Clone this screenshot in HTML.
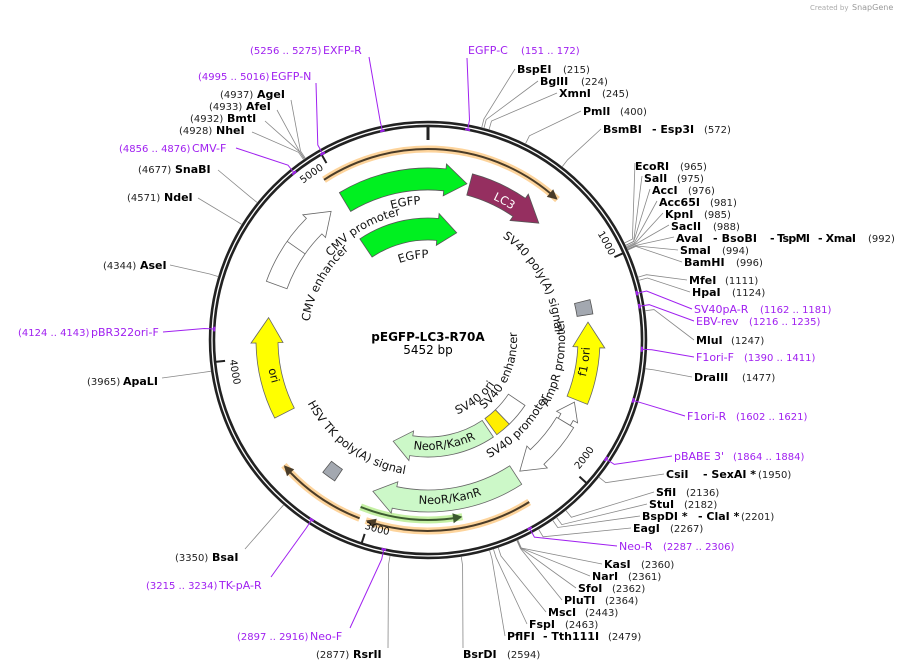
<!DOCTYPE html>
<html><head><meta charset="utf-8"><style>
html,body{margin:0;padding:0;background:#fff;}
svg{display:block;font-family:"DejaVu Sans","Liberation Sans",sans-serif;}
.n{font-weight:bold;font-size:11px;fill:#000}
.p{font-size:10px;fill:#222}
.m{font-size:11px;fill:#a020f0}
.mp{font-size:10px;fill:#a020f0}
.f{font-size:11.5px;fill:#111}
.t{font-size:10px;fill:#111}
</style></head><body>
<svg id="s" width="908" height="671" viewBox="0 0 908 671" xmlns="http://www.w3.org/2000/svg">
<defs>
<path id="cw82" d="M428,422 A82,82 0 1 1 428,258 A82,82 0 1 1 428,422"/>
<path id="cw120" d="M428,460 A120,120 0 1 1 428,220 A120,120 0 1 1 428,460"/>
<path id="cw127" d="M428,467 A127,127 0 1 1 428,213 A127,127 0 1 1 428,467"/>
<path id="cw128" d="M428,468 A128,128 0 1 1 428,212 A128,128 0 1 1 428,468"/>
<path id="cw136" d="M428,476 A136,136 0 1 1 428,204 A136,136 0 1 1 428,476"/>
<path id="cw155" d="M428,495 A155,155 0 1 1 428,185 A155,155 0 1 1 428,495"/>
<path id="cw200" d="M428,540 A200,200 0 1 1 428,140 A200,200 0 1 1 428,540"/>
<path id="cc80" d="M428,260 A80,80 0 1 0 428,420 A80,80 0 1 0 428,260"/>
<path id="cc89" d="M428,251 A89,89 0 1 0 428,429 A89,89 0 1 0 428,251"/>
<path id="cc110" d="M428,230 A110,110 0 1 0 428,450 A110,110 0 1 0 428,230"/>
<path id="cc133" d="M428,207 A133,133 0 1 0 428,473 A133,133 0 1 0 428,207"/>
<path id="cc137" d="M428,203 A137,137 0 1 0 428,477 A137,137 0 1 0 428,203"/>
<path id="cc136" d="M428,204 A136,136 0 1 0 428,476 A136,136 0 1 0 428,204"/>
<path id="cc164" d="M428,176 A164,164 0 1 0 428,504 A164,164 0 1 0 428,176"/>
<path id="cc162" d="M428,178 A162,162 0 1 0 428,502 A162,162 0 1 0 428,178"/>
<path id="cc199" d="M428,141 A199,199 0 1 0 428,539 A199,199 0 1 0 428,141"/>
</defs>
<g id="geo"></g>
<text x="810" y="10" style="font-size:7px;fill:#aaa">Created by</text>
<text x="852" y="10" style="font-size:8px;fill:#999">SnapGene</text>

<text x="428" y="341" text-anchor="middle" style="font-weight:bold;font-size:12px">pEGFP-LC3-R70A</text>
<text x="428" y="354" text-anchor="middle" style="font-size:12px">5452 bp</text>

<text class="f"><textPath href="#cw136" startOffset="47.4%" text-anchor="middle">EGFP</textPath></text>
<text class="f"><textPath href="#cw128" startOffset="41.4%" text-anchor="middle">CMV promoter</textPath></text>
<text class="f"><textPath href="#cw120" startOffset="33%" text-anchor="middle">CMV enhancer</textPath></text>
<text class="f"><textPath href="#cw82" startOffset="47.2%" text-anchor="middle">EGFP</textPath></text>
<text class="f" style="fill:#fff"><textPath href="#cw155" startOffset="58%" text-anchor="middle">LC3</textPath></text>
<text class="f"><textPath href="#cw127" startOffset="67%" text-anchor="middle">SV40 poly(A) signal</textPath></text>
<text class="f"><textPath href="#cc162" startOffset="72.8%" text-anchor="middle">f1 ori</textPath></text>
<text class="f"><textPath href="#cc137" startOffset="72.2%" text-anchor="middle">AmpR promoter</textPath></text>
<text class="f"><textPath href="#cc89" startOffset="68.6%" text-anchor="middle">SV40 enhancer</textPath></text>
<text class="f"><textPath href="#cc80" startOffset="60.8%" text-anchor="middle">SV40 ori</textPath></text>
<text class="f"><textPath href="#cc133" startOffset="62.8%" text-anchor="middle">SV40 promoter</textPath></text>
<text class="f"><textPath href="#cc110" startOffset="52.5%" text-anchor="middle">NeoR/KanR</textPath></text>
<text class="f"><textPath href="#cc164" startOffset="52.2%" text-anchor="middle">NeoR/KanR</textPath></text>
<text class="f"><textPath href="#cc136" startOffset="40%" text-anchor="middle">HSV TK poly(A) signal</textPath></text>
<text class="f"><textPath href="#cc162" startOffset="28.6%" text-anchor="middle">ori</textPath></text>
<text class="t"><textPath href="#cw200" startOffset="41.3%" text-anchor="end">5000</textPath></text>
<text class="t"><textPath href="#cw200" startOffset="68.1%" text-anchor="end">1000</textPath></text>
<text class="t"><textPath href="#cc199" startOffset="63.7%" text-anchor="start">2000</textPath></text>
<text class="t"><textPath href="#cc199" startOffset="44.8%" text-anchor="start">3000</textPath></text>
<text class="t"><textPath href="#cc199" startOffset="26.6%" text-anchor="start">4000</textPath></text>

<text class="m" x="468" y="54">EGFP-C</text><text class="mp" x="521" y="54">(151 .. 172)</text>
<text class="n" x="517" y="73">BspEI</text><text class="p" x="563" y="73">(215)</text>
<text class="n" x="540" y="85">BglII</text><text class="p" x="581" y="85">(224)</text>
<text class="n" x="559" y="97">XmnI</text><text class="p" x="602" y="97">(245)</text>
<text class="n" x="583" y="115">PmlI</text><text class="p" x="620" y="115">(400)</text>
<text class="n" x="603" y="133">BsmBI</text><text class="n" x="652" y="133">- Esp3I</text><text class="p" x="704" y="133">(572)</text>
<text class="n" x="635" y="170">EcoRI</text><text class="p" x="680" y="170">(965)</text>
<text class="n" x="644" y="182">SalI</text><text class="p" x="677" y="182">(975)</text>
<text class="n" x="652" y="194">AccI</text><text class="p" x="688" y="194">(976)</text>
<text class="n" x="659" y="206">Acc65I</text><text class="p" x="710" y="206">(981)</text>
<text class="n" x="665" y="218">KpnI</text><text class="p" x="704" y="218">(985)</text>
<text class="n" x="671" y="230">SacII</text><text class="p" x="713" y="230">(988)</text>
<text class="n" x="676" y="242">AvaI</text><text class="n" x="713" y="242" textLength="44">- BsoBI</text><text class="n" x="770" y="242" textLength="40">- TspMI</text><text class="n" x="818" y="242" textLength="38">- XmaI</text><text class="p" x="868" y="242">(992)</text>
<text class="n" x="680" y="254">SmaI</text><text class="p" x="722" y="254">(994)</text>
<text class="n" x="684" y="266">BamHI</text><text class="p" x="736" y="266">(996)</text>
<text class="n" x="689" y="284">MfeI</text><text class="p" x="725" y="284">(1111)</text>
<text class="n" x="692" y="296">HpaI</text><text class="p" x="732" y="296">(1124)</text>
<text class="m" x="694" y="313">SV40pA-R</text><text class="mp" x="760" y="313">(1162 .. 1181)</text>
<text class="m" x="696" y="325">EBV-rev</text><text class="mp" x="749" y="325">(1216 .. 1235)</text>
<text class="n" x="696" y="344">MluI</text><text class="p" x="731" y="344">(1247)</text>
<text class="m" x="696" y="361">F1ori-F</text><text class="mp" x="744" y="361">(1390 .. 1411)</text>
<text class="n" x="694" y="381">DraIII</text><text class="p" x="742" y="381">(1477)</text>
<text class="m" x="687" y="420">F1ori-R</text><text class="mp" x="736" y="420">(1602 .. 1621)</text>
<text class="m" x="674" y="460">pBABE 3'</text><text class="mp" x="733" y="460">(1864 .. 1884)</text>
<text class="n" x="666" y="478">CsiI</text><text class="n" x="703" y="478">- SexAI *</text><text class="p" x="758" y="478">(1950)</text>
<text class="n" x="656" y="496">SfiI</text><text class="p" x="686" y="496">(2136)</text>
<text class="n" x="649" y="508">StuI</text><text class="p" x="684" y="508">(2182)</text>
<text class="n" x="642" y="520">BspDI *</text><text class="n" x="698" y="520">- ClaI *</text><text class="p" x="741" y="520">(2201)</text>
<text class="n" x="633" y="532">EagI</text><text class="p" x="670" y="532">(2267)</text>
<text class="m" x="619" y="550">Neo-R</text><text class="mp" x="663" y="550">(2287 .. 2306)</text>
<text class="n" x="604" y="568">KasI</text><text class="p" x="641" y="568">(2360)</text>
<text class="n" x="592" y="580">NarI</text><text class="p" x="628" y="580">(2361)</text>
<text class="n" x="578" y="592">SfoI</text><text class="p" x="612" y="592">(2362)</text>
<text class="n" x="564" y="604">PluTI</text><text class="p" x="605" y="604">(2364)</text>
<text class="n" x="548" y="616">MscI</text><text class="p" x="585" y="616">(2443)</text>
<text class="n" x="529" y="628">FspI</text><text class="p" x="565" y="628">(2463)</text>
<text class="n" x="507" y="640">PflFI</text><text class="n" x="543" y="640">- Tth111I</text><text class="p" x="608" y="640">(2479)</text>
<text class="n" x="463" y="658">BsrDI</text><text class="p" x="507" y="658">(2594)</text>
<text class="p" x="316" y="658">(2877)</text><text class="n" x="353" y="658">RsrII</text>
<text class="mp" x="237" y="640">(2897 .. 2916)</text><text class="m" x="310" y="640">Neo-F</text>
<text class="mp" x="146" y="589">(3215 .. 3234)</text><text class="m" x="219" y="589">TK-pA-R</text>
<text class="p" x="175" y="561">(3350)</text><text class="n" x="212" y="561">BsaI</text>
<text class="p" x="87" y="385">(3965)</text><text class="n" x="123" y="385">ApaLI</text>
<text class="mp" x="18" y="336">(4124 .. 4143)</text><text class="m" x="91" y="336">pBR322ori-F</text>
<text class="p" x="103" y="269">(4344)</text><text class="n" x="140" y="269">AseI</text>
<text class="p" x="127" y="201">(4571)</text><text class="n" x="164" y="201">NdeI</text>
<text class="p" x="138" y="173">(4677)</text><text class="n" x="175" y="173">SnaBI</text>
<text class="mp" x="119" y="152">(4856 .. 4876)</text><text class="m" x="192" y="152">CMV-F</text>
<text class="p" x="179" y="134">(4928)</text><text class="n" x="216" y="134">NheI</text>
<text class="p" x="190" y="122">(4932)</text><text class="n" x="227" y="122">BmtI</text>
<text class="p" x="209" y="110">(4933)</text><text class="n" x="246" y="110">AfeI</text>
<text class="p" x="220" y="98">(4937)</text><text class="n" x="257" y="98">AgeI</text>
<text class="mp" x="198" y="80">(4995 .. 5016)</text><text class="m" x="271" y="80">EGFP-N</text>
<text class="mp" x="250" y="54">(5256 .. 5275)</text><text class="m" x="323" y="54">EXFP-R</text>
</svg>
<script>
(function(){
var NS="http://www.w3.org/2000/svg",g=document.getElementById("geo"),cx=428,cy=340;
function P(r,a){a=a*Math.PI/180;return [cx+r*Math.sin(a),cy-r*Math.cos(a)];}
function s(p){return p[0].toFixed(1)+","+p[1].toFixed(1);}
function el(t,at){var e=document.createElementNS(NS,t);for(var k in at)e.setAttribute(k,at[k]);g.appendChild(e);return e;}
function arc(r,a,b){var sw=b>a?1:0,lg=Math.abs(b-a)>180?1:0;return "A"+r+","+r+" 0 "+lg+" "+sw+" "+s(P(r,b));}
function feat(r1,r2,a0,at,hd,fill,st){
  var d=at>a0?1:-1,h=at-d*hd,m=(r1+r2)/2,e=5,p;
  if(hd>0){p="M"+s(P(r2,a0))+arc(r2,a0,h)+"L"+s(P(r2+e,h))+"L"+s(P(m,at))+"L"+s(P(r1-e,h))+"L"+s(P(r1,h))+arc(r1,h,a0)+"Z";}
  else{p="M"+s(P(r2,a0))+arc(r2,a0,at)+"L"+s(P(r1,at))+arc(r1,at,a0)+"Z";}
  el("path",{d:p,fill:fill,stroke:st||"#666","stroke-width":0.8});
}
function oarc(r,a0,at,col,lc){
  var d=at>a0?1:-1;
  el("path",{d:"M"+s(P(r,a0))+arc(r,a0,at),fill:"none",stroke:col,"stroke-width":7});
  el("path",{d:"M"+s(P(r,a0))+arc(r,a0,at-d*0.5),fill:"none",stroke:lc,"stroke-width":2});
  el("path",{d:"M"+s(P(r,at))+"L"+s(P(r+5,at-d*3))+"L"+s(P(r-5,at-d*3))+"Z",fill:lc});
}
el("circle",{cx:cx,cy:cy,r:216,fill:"none",stroke:"#222","stroke-width":6.5});
el("circle",{cx:cx,cy:cy,r:216,fill:"none",stroke:"#fff","stroke-width":1.3});
el("line",{x1:428,y1:127,x2:428,y2:140,stroke:"#222","stroke-width":3});
[66.03,132.06,198.09,264.12,330.15].forEach(function(a){var p=P(204,a),q=P(214,a);el("line",{x1:p[0],y1:p[1],x2:q[0],y2:q[1],stroke:"#222","stroke-width":2});});
oarc(191,-33,42.7,"#fdd49c","#4a3c28");
oarc(191,148,199,"#fdd49c","#4a3c28");
oarc(191,201,229,"#fdd49c","#4a3c28");
oarc(180,202,169,"#c5f0a4","#3c5a30");
feat(150,172,-31,14,8,"#00f020","#555");
feat(150,172,15,43.5,9,"#952f60","#555");
feat(100,122,-34,15,10,"#00f020","#555");
feat(150,172,-70,-37,8,"#fff","#666");
el("line",{x1:P(150,-55)[0],y1:P(150,-55)[1],x2:P(172,-55)[0],y2:P(172,-55)[1],stroke:"#666","stroke-width":0.8});
feat(150,172,243,278,9,"#ffff00","#666");
feat(150,172,112,83.6,9,"#ffff00","#666");
feat(151,167,76,81,0,"#a3a8b0","#555");
feat(152,166,121,113,6,"#fff","#666");
feat(150,170,121,145,8,"#fff","#666");
feat(150,172,147,200,8,"#ccf8c8","#666");
feat(97,117,146,199,10,"#ccf8c8","#666");
feat(97,117,124,136,0,"#fff","#666");
feat(97,117,136,144,0,"#ffee00","#666");
feat(155,169,213.5,218.5,0,"#a3a8b0","#555");
var L=[[215,515,69],[224,538,81],[245,557,93],[400,581,111],[572,601,129],
[965,635,163],[975,642,176],[976,650,189],[981,657,201],[985,663,213],[988,669,225],[992,674,237],[994,678,250],[996,682,262],
[1111,687,280],[1124,690,292],[1247,694,340],[1477,692,377],
[1950,664,474],[2136,654,492],[2182,647,504],[2201,640,516],[2267,631,528],
[2360,602,564],[2361,590,576],[2362,576,588],[2364,562,600],[2443,546,612],[2463,527,624],[2479,505,636],[2594,463,648],
[2877,388,648],[3350,245,549],[3965,162,378],[4344,170,265],[4571,198,198],[4677,218,170],[4928,252,132],[4932,265,121],[4933,277,110],[4937,291,100]];
L.forEach(function(l){var a=l[0]/5452*360,p=P(219,a),q=P(228,a);
 el("polyline",{points:s(p)+" "+s(q)+" "+l[1]+","+l[2],fill:"none",stroke:"#888","stroke-width":0.8});});
var M=[[151,172,467,58],[1162,1181,692,309],[1216,1235,694,321],[1390,1411,694,357],[1602,1621,685,416],[1864,1884,672,456],[2287,2306,617,546],
[2897,2916,350,628],[3215,3234,271,577],[4124,4143,163,332],[4856,4876,236,148],[4995,5016,316,83],[5256,5275,369,57]];
M.forEach(function(m){var a=m[0]/5452*360,b=m[1]/5452*360,c=(a+b)/2,p=P(224,c);
 el("path",{d:"M"+s(P(214,a))+arc(214,a,b),fill:"none",stroke:"#a020f0","stroke-width":2});
 el("polyline",{points:s(P(214,c))+" "+s(p)+" "+m[2]+","+m[3],fill:"none",stroke:"#a020f0","stroke-width":1});});
})();
</script>
</body></html>
